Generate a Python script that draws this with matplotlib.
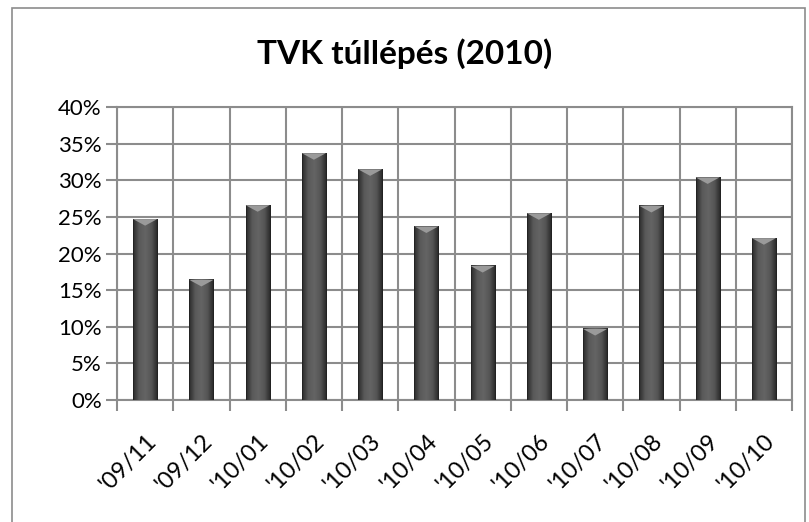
import numpy as np
import matplotlib.pyplot as plt
from matplotlib.patches import Rectangle, Polygon
from matplotlib.colors import LinearSegmentedColormap

months = ["'09/11", "'09/12", "'10/01", "'10/02", "'10/03", "'10/04",
          "'10/05", "'10/06", "'10/07", "'10/08", "'10/09", "'10/10"]
values = [24.7, 16.4, 26.6, 33.7, 31.5, 23.7, 18.3, 25.5, 9.7, 26.5, 30.4, 22.1]
yticks = [0, 5, 10, 15, 20, 25, 30, 35, 40]

plt.rcParams['font.family'] = ['Lato', 'DejaVu Sans']
grid_col = '#8c8c8c'

fig = plt.figure(figsize=(8.09, 5.22), dpi=100)
ax = fig.add_axes([117/809, 1 - 400/522, 675/809, 293/522])

# bevelled bar look: horizontal gradient, dark at the edges
shade = LinearSegmentedColormap.from_list('bar', ['#2b2b2b', '#5a5a5a', '#646464', '#555555', '#262626'])
grad = np.linspace(0, 1, 64).reshape(1, -1)
w = 0.43
x = np.arange(len(values))
for xi, v in zip(x, values):
    ax.imshow(grad, cmap=shade, aspect='auto', extent=(xi - w/2, xi + w/2, 0, v), zorder=3,
              interpolation='bilinear')
    ax.add_patch(Rectangle((xi - w/2, 0), w, v, fill=False, edgecolor='#222222', lw=0.6, zorder=4))
    ax.add_patch(Polygon([(xi - w/2, v), (xi + w/2, v), (xi, v - 0.9)], closed=True,
                         facecolor='#9a9a9a', edgecolor='none', zorder=4))

ax.set_xlim(-0.5, len(values) - 0.5)
ax.set_ylim(0, 40)
ax.set_yticks(yticks)
ax.set_yticklabels([f'{t}%' for t in yticks], fontsize=16)
ax.set_xticks(np.arange(len(values) + 1) - 0.5)
ax.set_xticklabels([])
ax.set_xticks(x, minor=True)
ax.set_xticklabels(months, minor=True, rotation=45, ha='right', rotation_mode='anchor', fontsize=17)
ax.tick_params(axis='x', which='minor', length=0, pad=22)
ax.tick_params(axis='x', which='major', length=8, width=1.5, color=grid_col)
ax.tick_params(axis='y', length=8, width=1.5, color=grid_col, pad=3)
ax.grid(True, which='major', color=grid_col, lw=1.5, zorder=1)
ax.set_axisbelow(True)
for s in ax.spines.values():
    s.set_color(grid_col)
    s.set_linewidth(1.5)

fig.text(0.5, 1 - 54/522, 'TVK túllépés (2010)', ha='center', va='center',
         fontsize=24, fontweight='bold')

# chart frame
fig.patches.append(Rectangle((12/809, -0.05), 793/809, 1.05 - 8/522, transform=fig.transFigure,
                             fill=False, edgecolor='#8c8c8c', lw=1.2))

fig.savefig('out.png', dpi=100)
